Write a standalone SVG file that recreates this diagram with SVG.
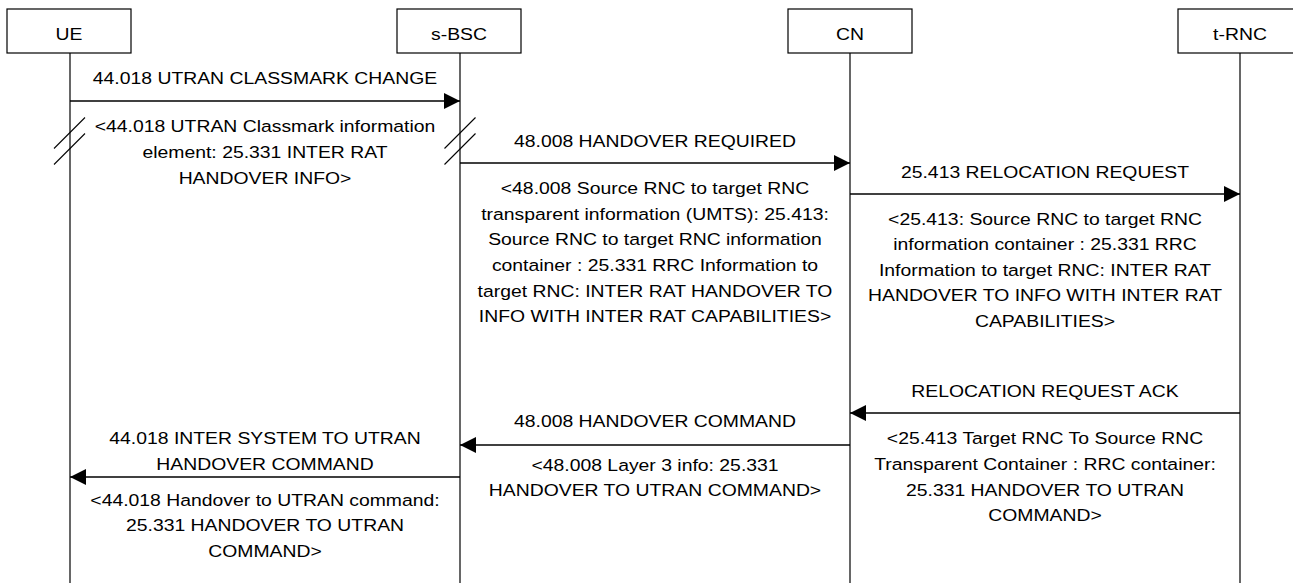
<svg xmlns="http://www.w3.org/2000/svg" width="1293" height="583" viewBox="0 0 1293 583">
<style>
.box{fill:#fff;stroke:#000;stroke-width:1.2}
.life{stroke:#000;stroke-width:1.2;fill:none}
.msg{stroke:#000;stroke-width:1.4;fill:none}
.sl{stroke:#000;stroke-width:1.1;fill:none}
text{font-family:"Liberation Sans",Arial,sans-serif;font-size:17px;fill:#000;text-anchor:middle}
</style>
<defs>
<marker id="ah" viewBox="0 0 16 16" refX="16" refY="8" markerWidth="16" markerHeight="16" markerUnits="userSpaceOnUse" orient="auto">
<path d="M0,0 L16,8 L0,16 Z" fill="#000"/>
</marker>
</defs>
<rect width="1293" height="583" fill="#fff"/>
<g id="lifelines">
<line class="life" x1="70" y1="53" x2="70" y2="583"/>
<line class="life" x1="460" y1="53" x2="460" y2="583"/>
<line class="life" x1="850" y1="53" x2="850" y2="583"/>
<line class="life" x1="1240" y1="53" x2="1240" y2="583"/>
</g>
<g id="UE"><rect class="box" x="7" y="9" width="124" height="44"/><text transform="translate(69 0) scale(1.14 1)" x="0" y="40">UE</text></g>
<g id="s-BSC"><rect class="box" x="397" y="9" width="124" height="44"/><text transform="translate(459 0) scale(1.14 1)" x="0" y="40">s-BSC</text></g>
<g id="CN"><rect class="box" x="788" y="9" width="124" height="44"/><text transform="translate(850 0) scale(1.14 1)" x="0" y="40">CN</text></g>
<g id="t-RNC"><rect class="box" x="1178" y="9" width="124" height="44"/><text transform="translate(1240 0) scale(1.14 1)" x="0" y="40">t-RNC</text></g>
<g id="connectors">
<line class="msg" x1="70" y1="101" x2="460" y2="101" marker-end="url(#ah)"/>
<line class="msg" x1="460" y1="163" x2="850" y2="163" marker-end="url(#ah)"/>
<line class="msg" x1="850" y1="194" x2="1240" y2="194" marker-end="url(#ah)"/>
<line class="msg" x1="1240" y1="413" x2="850" y2="413" marker-end="url(#ah)"/>
<line class="msg" x1="850" y1="445" x2="460" y2="445" marker-end="url(#ah)"/>
<line class="msg" x1="460" y1="477" x2="70" y2="477" marker-end="url(#ah)"/>
<line class="sl" x1="85" y1="117.5" x2="54" y2="148.5"/>
<line class="sl" x1="85" y1="133.5" x2="54" y2="164.5"/>
<line class="sl" x1="475.5" y1="117.5" x2="444.5" y2="148.5"/>
<line class="sl" x1="475.5" y1="133.5" x2="444.5" y2="164.5"/>
</g>
<g id="labels">
<text transform="translate(265 0) scale(1.14 1)" x="0" y="84">44.018 UTRAN CLASSMARK CHANGE</text>
<text transform="translate(265 0) scale(1.14 1)"><tspan x="0" y="132">&lt;44.018 UTRAN Classmark information</tspan><tspan x="0" y="158">element: 25.331 INTER RAT</tspan><tspan x="0" y="184">HANDOVER INFO&gt;</tspan></text>
<text transform="translate(655 0) scale(1.14 1)" x="0" y="147">48.008 HANDOVER REQUIRED</text>
<text transform="translate(655 0) scale(1.14 1)"><tspan x="0" y="194">&lt;48.008 Source RNC to target RNC</tspan><tspan x="0" y="220">transparent information (UMTS): 25.413:</tspan><tspan x="0" y="245.5">Source RNC to target RNC information</tspan><tspan x="0" y="271">container : 25.331 RRC Information to</tspan><tspan x="0" y="297">target RNC: INTER RAT HANDOVER TO</tspan><tspan x="0" y="322.5">INFO WITH INTER RAT CAPABILITIES&gt;</tspan></text>
<text transform="translate(1045 0) scale(1.14 1)" x="0" y="178">25.413 RELOCATION REQUEST</text>
<text transform="translate(1045 0) scale(1.14 1)"><tspan x="0" y="225">&lt;25.413: Source RNC to target RNC</tspan><tspan x="0" y="250.5">information container : 25.331 RRC</tspan><tspan x="0" y="276">Information to target RNC: INTER RAT</tspan><tspan x="0" y="301.5">HANDOVER TO INFO WITH INTER RAT</tspan><tspan x="0" y="327">CAPABILITIES&gt;</tspan></text>
<text transform="translate(1045 0) scale(1.14 1)" x="0" y="397">RELOCATION REQUEST ACK</text>
<text transform="translate(1045 0) scale(1.14 1)"><tspan x="0" y="444">&lt;25.413 Target RNC To Source RNC</tspan><tspan x="0" y="470">Transparent Container : RRC container:</tspan><tspan x="0" y="496">25.331 HANDOVER TO UTRAN</tspan><tspan x="0" y="521.5">COMMAND&gt;</tspan></text>
<text transform="translate(655 0) scale(1.14 1)" x="0" y="427">48.008 HANDOVER COMMAND</text>
<text transform="translate(655 0) scale(1.14 1)"><tspan x="0" y="471.5">&lt;48.008 Layer 3 info: 25.331</tspan><tspan x="0" y="496">HANDOVER TO UTRAN COMMAND&gt;</tspan></text>
<text transform="translate(265 0) scale(1.14 1)"><tspan x="0" y="444">44.018 INTER SYSTEM TO UTRAN</tspan><tspan x="0" y="470">HANDOVER COMMAND</tspan></text>
<text transform="translate(265 0) scale(1.14 1)"><tspan x="0" y="506">&lt;44.018 Handover to UTRAN command:</tspan><tspan x="0" y="531.5">25.331 HANDOVER TO UTRAN</tspan><tspan x="0" y="557">COMMAND&gt;</tspan></text>
</g>
</svg>
